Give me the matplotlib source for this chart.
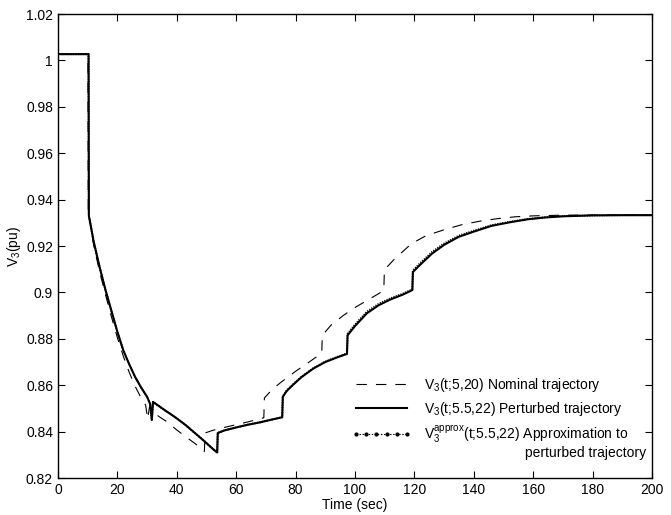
import matplotlib
matplotlib.use("Agg")
import matplotlib.pyplot as plt
import matplotlib.ticker as mticker
from matplotlib.lines import Line2D

plt.rcParams.update({
    "font.family": ["Liberation Sans", "DejaVu Sans"],
    "font.size": 10,
    "mathtext.default": "regular",
    "lines.scale_dashes": False,
    "xtick.direction": "in",
    "ytick.direction": "in",
    "xtick.top": True,
    "ytick.right": True,
    "xtick.major.size": 5,
    "ytick.major.size": 5,
    "axes.linewidth": 1.0,
})

# V3(t;5,20) nominal trajectory
T_NOM = [0, 10.1, 10.2, 11, 12, 14, 16, 18, 20, 22, 24, 26, 28, 29.5, 30.2, 30.8,
         31.5, 34, 37, 40, 43, 46, 49.3, 49.5, 52, 56, 60, 64, 69.3, 69.5, 72, 75,
         80, 84, 88.8, 89, 92, 96, 100, 104, 108, 109.7, 109.9, 113, 116, 119, 124,
         130, 136, 142, 148, 154, 160, 170, 200]
V_NOM = [1.0027, 1.0027, 0.9350, 0.9290, 0.9205, 0.9090, 0.8990, 0.8895, 0.8805,
         0.8725, 0.8655, 0.8595, 0.8545, 0.8515, 0.8455, 0.8505, 0.8490, 0.8465,
         0.8440, 0.8407, 0.8378, 0.8350, 0.8315, 0.8394, 0.8405, 0.8418, 0.8430,
         0.8442, 0.8460, 0.8545, 0.8580, 0.8612, 0.8660, 0.8695, 0.8738, 0.8815,
         0.8860, 0.8900, 0.8935, 0.8965, 0.8995, 0.9010, 0.9097, 0.9140, 0.9175,
         0.9210, 0.9245, 0.9270, 0.9292, 0.9307, 0.9318, 0.9326, 0.9330, 0.9333,
         0.9333]

# V3(t;5.5,22) perturbed trajectory
T_PER = [0, 10.3, 10.4, 11, 12, 14, 16, 18, 20, 22, 24, 26, 28, 30, 31, 31.6, 32.0,
         34, 36, 38, 40, 43, 46, 49, 52, 53.6, 53.8, 56, 60, 64, 68, 72, 75.5, 75.7,
         77, 79, 82, 86, 90, 94, 97.3, 97.5, 100, 104, 108, 112, 116, 119.3, 119.5,
         122, 126, 130, 135, 140, 146, 152, 158, 164, 170, 180, 190, 200]
V_PER = [1.0027, 1.0027, 0.9330, 0.9290, 0.9220, 0.9110, 0.9010, 0.8920, 0.8830,
         0.8750, 0.8690, 0.8635, 0.8590, 0.8550, 0.8520, 0.8450, 0.8528, 0.8510,
         0.8492, 0.8475, 0.8457, 0.8428, 0.8395, 0.8362, 0.8327, 0.8310, 0.8394,
         0.8405, 0.8418, 0.8430, 0.8440, 0.8452, 0.8462, 0.8550, 0.8575, 0.8600,
         0.8635, 0.8672, 0.8700, 0.8720, 0.8735, 0.8815, 0.8855, 0.8910, 0.8945,
         0.8970, 0.8990, 0.9010, 0.9088, 0.9120, 0.9168, 0.9205, 0.9240, 0.9262,
         0.9287, 0.9302, 0.9315, 0.9323, 0.9328, 0.9332, 0.9333, 0.9333]

# V3^approx(t;5.5,22) approximation to perturbed trajectory
V_APP = [1.0027, 1.0027, 0.9330, 0.9290, 0.9220, 0.9110, 0.9010, 0.8920, 0.8830,
         0.8750, 0.8690, 0.8635, 0.8590, 0.8550, 0.8520, 0.8450, 0.8528, 0.8510,
         0.8492, 0.8475, 0.8457, 0.8428, 0.8395, 0.8362, 0.8327, 0.8310, 0.8394,
         0.8405, 0.8418, 0.8430, 0.8440, 0.8452, 0.8462, 0.8552, 0.8577, 0.8602,
         0.8637, 0.8674, 0.8702, 0.8722, 0.8737, 0.8822, 0.8862, 0.8917, 0.8951,
         0.8975, 0.8994, 0.9013, 0.9095, 0.9127, 0.9175, 0.9211, 0.9245, 0.9266,
         0.9290, 0.9304, 0.9316, 0.9324, 0.9329, 0.9332, 0.9333, 0.9333]

X_TICKS = list(range(0, 201, 20))
Y_TICKS = [0.82, 0.84, 0.86, 0.88, 0.90, 0.92, 0.94, 0.96, 0.98, 1.00, 1.02]

LABELS = [
    "V$_3$(t;5,20) Nominal trajectory",
    "V$_3$(t;5.5,22) Perturbed trajectory",
    "V$_3^{approx}$(t;5.5,22) Approximation to",
]

fig = plt.figure(figsize=(6.71, 5.15), dpi=100)
ax = fig.add_axes([0.0864, 0.0718, 0.8853, 0.901])

l_nom, = ax.plot(T_NOM, V_NOM, color="black", linewidth=0.8,
                 linestyle="--", dashes=(7.5, 6.5))
l_per, = ax.plot(T_PER, V_PER, color="black", linewidth=1.5)
ax.plot(T_PER, V_APP, color="black", linewidth=1.4, linestyle=(0, (0.8, 1.0)))

# legend sample for the approximation: dotted line with dots
h_app = Line2D([], [], color="black", linewidth=0.8, linestyle=(0, (1, 1.2)),
               marker="o", markersize=2)

ax.set_xlim(0, 200)
ax.set_ylim(0.82, 1.02)
ax.set_xticks(X_TICKS)
ax.set_yticks(Y_TICKS)
ax.yaxis.set_major_formatter(mticker.FuncFormatter(lambda v, _: f"{round(v, 2):g}"))
ax.set_xlabel("Time (sec)", labelpad=1)
ax.set_ylabel("V$_3$(pu)", labelpad=2)

leg = ax.legend([l_nom, l_per, h_app], LABELS, loc="upper left",
                bbox_to_anchor=(0.495, 0.220), frameon=False, borderpad=0,
                borderaxespad=0, handlelength=4.25, handletextpad=0.9,
                labelspacing=0.42, numpoints=6)
ax.text(0.786, 0.054, "perturbed trajectory", transform=ax.transAxes,
        ha="left", va="center")

fig.savefig("out.png", dpi=100)
